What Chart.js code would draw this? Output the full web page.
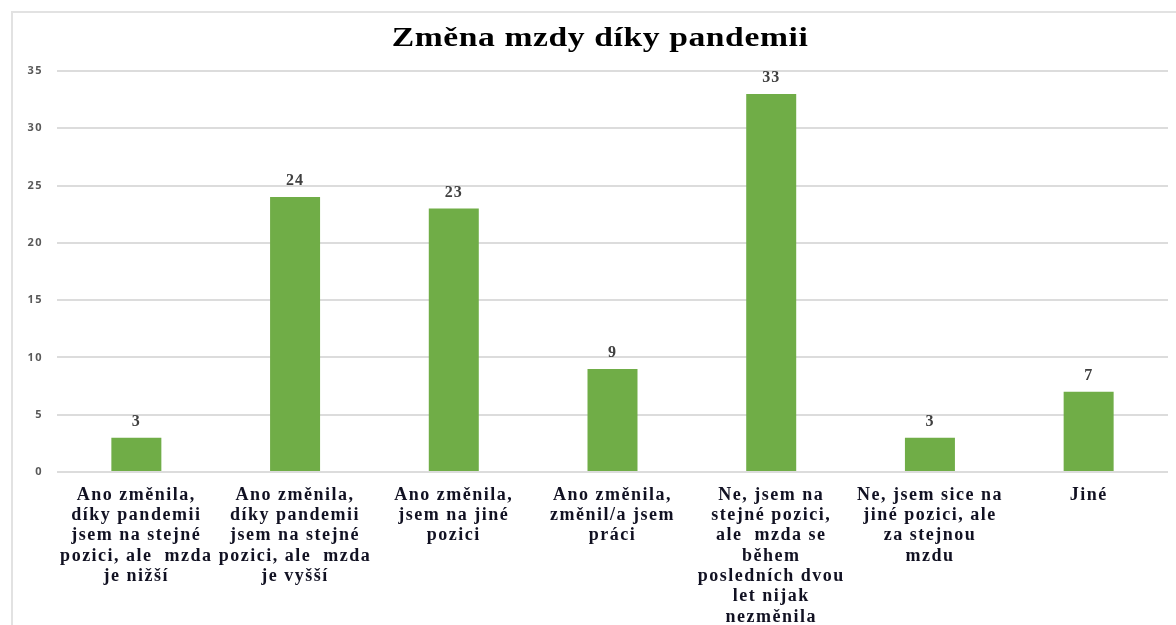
<!DOCTYPE html>
<html>
<head>
<meta charset="utf-8">
<script src="https://cdn.jsdelivr.net/npm/chart.js@4/dist/chart.umd.min.js"></script>
<style>
  html, body { margin: 0; padding: 0; background: #ffffff; overflow: hidden; }
  #frame { position: absolute; left: 11px; top: 11px; width: 1400px; height: 900px; border: 2px solid #e2e2e2; box-sizing: border-box; }
  #wrap { position: absolute; left: 0; top: 0; width: 1176px; height: 625px; }
</style>
</head>
<body>
<div id="frame"></div>
<div id="wrap"><canvas id="c" width="1176" height="625"></canvas></div>
<script>
const chartTitle = "Změna mzdy díky pandemii";
const categories = [
  ["Ano změnila,", "díky pandemii", "jsem na stejné", "pozici, ale  mzda", "je nižší"],
  ["Ano změnila,", "díky pandemii", "jsem na stejné", "pozici, ale  mzda", "je vyšší"],
  ["Ano změnila,", "jsem na jiné", "pozici"],
  ["Ano změnila,", "změnil/a jsem", "práci"],
  ["Ne, jsem na", "stejné pozici,", "ale  mzda se", "během", "posledních dvou", "let nijak", "nezměnila"],
  ["Ne, jsem sice na", "jiné pozici, ale", "za stejnou", "mzdu"],
  ["Jiné"]
];
const values = [3, 24, 23, 9, 33, 3, 7];
const yTicks = [0, 5, 10, 15, 20, 25, 30, 35];

const SERIF = '"Liberation Serif", "Times New Roman", serif';

const spacing = {
  id: 'spacing',
  beforeDraw(chart) { chart.ctx.letterSpacing = '1.5px'; },
  afterDraw(chart) { chart.ctx.letterSpacing = '0px'; }
};

const titleText = {
  id: 'titleText',
  afterDraw(chart) {
    const ctx = chart.ctx;
    ctx.save();
    ctx.letterSpacing = '0.5px';
    ctx.font = 'bold 28px ' + SERIF;
    ctx.fillStyle = '#000000';
    ctx.textAlign = 'center';
    ctx.textBaseline = 'middle';
    ctx.translate(600, 39);
    ctx.scale(1.2, 1);
    ctx.fillText(chartTitle, 0, 0);
    ctx.restore();
  }
};

const valueLabels = {
  id: 'valueLabels',
  afterDatasetsDraw(chart) {
    const ctx = chart.ctx;
    const meta = chart.getDatasetMeta(0);
    ctx.save();
    ctx.letterSpacing = '1px';
    ctx.font = 'bold 16px ' + SERIF;
    ctx.fillStyle = '#404040';
    ctx.textAlign = 'center';
    ctx.textBaseline = 'bottom';
    meta.data.forEach((bar, i) => {
      ctx.fillText(String(chart.data.datasets[0].data[i]), bar.x, bar.y - 8);
    });
    ctx.restore();
  }
};

new Chart(document.getElementById('c'), {
  type: 'bar',
  data: {
    labels: categories,
    datasets: [{
      data: values,
      backgroundColor: '#70ad47',
      borderWidth: 0,
      barPercentage: 0.315,
      categoryPercentage: 1.0
    }]
  },
  options: {
    responsive: false,
    animation: false,
    devicePixelRatio: 1,
    layout: { padding: { left: 0, right: 8, top: 71, bottom: 0 } },
    plugins: {
      legend: { display: false },
      tooltip: { enabled: false },
      title: { display: false }
    },
    scales: {
      y: {
        min: 0,
        max: 35,
        afterBuildTicks(scale) { scale.ticks = yTicks.map(v => ({ value: v })); },
        afterFit(scale) { scale.width = 57; },
        border: { display: false },
        grid: { color: '#dcdcdc', lineWidth: 2, drawTicks: false },
        ticks: {
          padding: 14,
          color: '#595959',
          font: { family: '"Open Sans", "DejaVu Sans", sans-serif', size: 11, weight: 'bold' }
        }
      },
      x: {
        afterFit(scale) { scale.height = 153; },
        border: { display: false },
        grid: { display: false },
        ticks: {
          autoSkip: false,
          maxRotation: 0,
          minRotation: 0,
          padding: 5,
          color: '#111122',
          font: { family: SERIF, size: 18, weight: 'bold', lineHeight: '20.3px' }
        }
      }
    }
  },
  plugins: [spacing, valueLabels, titleText]
});
</script>
</body>
</html>
